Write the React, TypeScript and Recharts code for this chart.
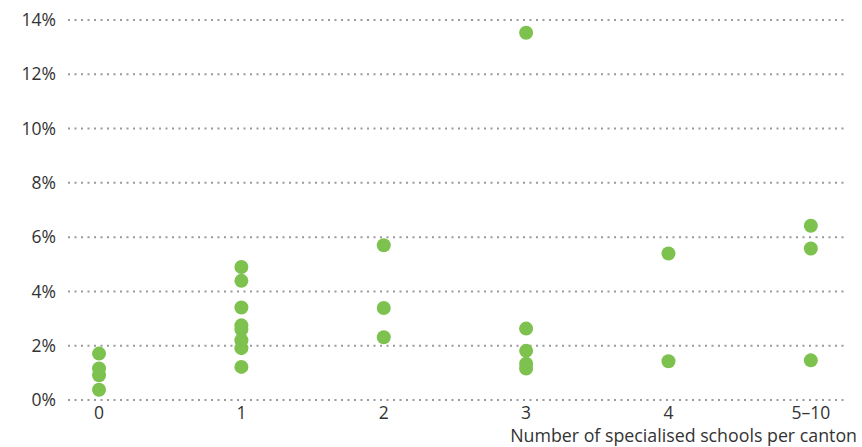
import React from "react";
import { ScatterChart, Scatter, XAxis, YAxis, CartesianGrid } from "recharts";

const categories = ["0", "1", "2", "3", "4", "5–10"];
const yTicks = [0, 2, 4, 6, 8, 10, 12, 14];

const values0 = [1.71, 1.16, 0.91, 0.38];
const values1 = [4.9, 4.39, 3.41, 2.75, 2.6, 2.2, 1.91, 1.22];
const values2 = [5.7, 3.39, 2.31];
const values3 = [13.53, 2.63, 1.81, 1.34, 1.16];
const values4 = [5.4, 1.43];
const values5 = [6.42, 5.58, 1.46];

const seriesValues = [values0, values1, values2, values3, values4, values5];

const data = seriesValues.flatMap((vals, i) => vals.map((v) => ({ x: i, y: v })));

const FONT = "'Open Sans', sans-serif";
const TEXT = "#333333";
const FS = 17.5;

export default function App() {
  return (
    <div style={{ position: "absolute", left: 0, top: 0, width: 862, height: 447, background: "#fff" }}>
      <ScatterChart width={862} height={447} margin={{ top: 20, right: 17, bottom: 0, left: 0 }}>
        <CartesianGrid
          horizontal={true}
          vertical={false}
          stroke="#9a9a9a"
          strokeWidth={2}
          strokeDasharray="2 4.5"
        />
        <XAxis
          type="number"
          dataKey="x"
          domain={[-0.218, 5.24]}
          ticks={[0, 1, 2, 3, 4, 5]}
          tickFormatter={(v: number) => categories[v]}
          axisLine={false}
          tickLine={false}
          height={47}
          tickMargin={1}
          tick={{ fill: TEXT, fontSize: FS, fontFamily: FONT }}
          label={{
            value: "Number of specialised schools per canton",
            position: "insideBottomRight",
            offset: 5,
            dx: 17,
            style: { fill: TEXT, fontSize: 17.8, fontFamily: FONT, textAnchor: "end" },
          }}
          allowDataOverflow
        />
        <YAxis
          type="number"
          dataKey="y"
          domain={[0, 14]}
          ticks={yTicks}
          tickFormatter={(v: number) => `${v}%`}
          axisLine={false}
          tickLine={false}
          width={68}
          tickMargin={6}
          tick={{ fill: TEXT, fontSize: FS, fontFamily: FONT }}
        />
        <Scatter
          data={data}
          fill="#7dc24e"
          isAnimationActive={false}
          shape={(props: any) => <circle cx={props.cx} cy={props.cy} r={7} fill="#7dc24e" />}
        />
      </ScatterChart>
    </div>
  );
}
